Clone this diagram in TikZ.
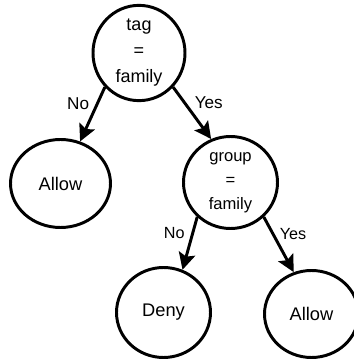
\documentclass[tikz,border=0pt]{standalone}
\usepackage{fontspec}
\setmainfont{Liberation Sans}
\usetikzlibrary{shapes}
\usetikzlibrary{positioning}
\usetikzlibrary{arrows.meta}
\tikzset{
    qnode/.style = {ellipse, line width=2.1pt, draw=black, align=center, inner sep=0pt,
                    minimum width=2.3cm, minimum height=2.25cm, font=\fontsize{12.8}{18.5}\selectfont},
    qnodes/.style = {qnode, font=\fontsize{11.8}{17}\selectfont},
    leaf/.style = {ellipse, line width=2.1pt, draw=black, align=center, inner sep=0pt,
                   minimum width=2.35cm, minimum height=2.2cm, font=\fontsize{13}{16}\selectfont},
    edgen/.style = {-{Stealth[length=0.42cm,width=0.42cm,inset=0.08cm]},line width=2.1pt},
    lab/.style = {inner sep=0pt, font=\fontsize{12.2}{14}\selectfont},
    labs/.style = {inner sep=0pt, font=\fontsize{11.5}{14}\selectfont}
}
\begin{document}
\begin{tikzpicture}
\useasboundingbox (0,0) rectangle (8.825,9);
%
\node[qnode] at (3.475,7.675) (tag) {tag\\=\\family};
\node[leaf,minimum width=2.5cm] at (1.5125,4.4125) (allowa) {Allow};
\node[qnodes,minimum width=2.35cm,minimum height=2.3cm] at (5.7625,4.4375) (group) {group\\=\\family};
\node[leaf,minimum height=2.25cm] at (4.0875,1.1875) (deny) {Deny};
\node[leaf,minimum height=2.175cm] at (7.7875,1.15) (allowb) {Allow};
%
\draw[edgen] (tag.225) -- node[lab,pos=0.3,left=0.17cm] {No} (allowa.65);
\draw[edgen] (tag.315) -- node[lab,pos=0.3,right=0.22cm] {Yes} (group.114);
\draw[edgen] (group.226) -- node[labs,pos=0.3,left=0.17cm] {No} (deny.66);
\draw[edgen] (group.314) -- node[labs,pos=0.3,right=0.14cm] {Yes} (allowb.113);

\end{tikzpicture}
\end{document}
